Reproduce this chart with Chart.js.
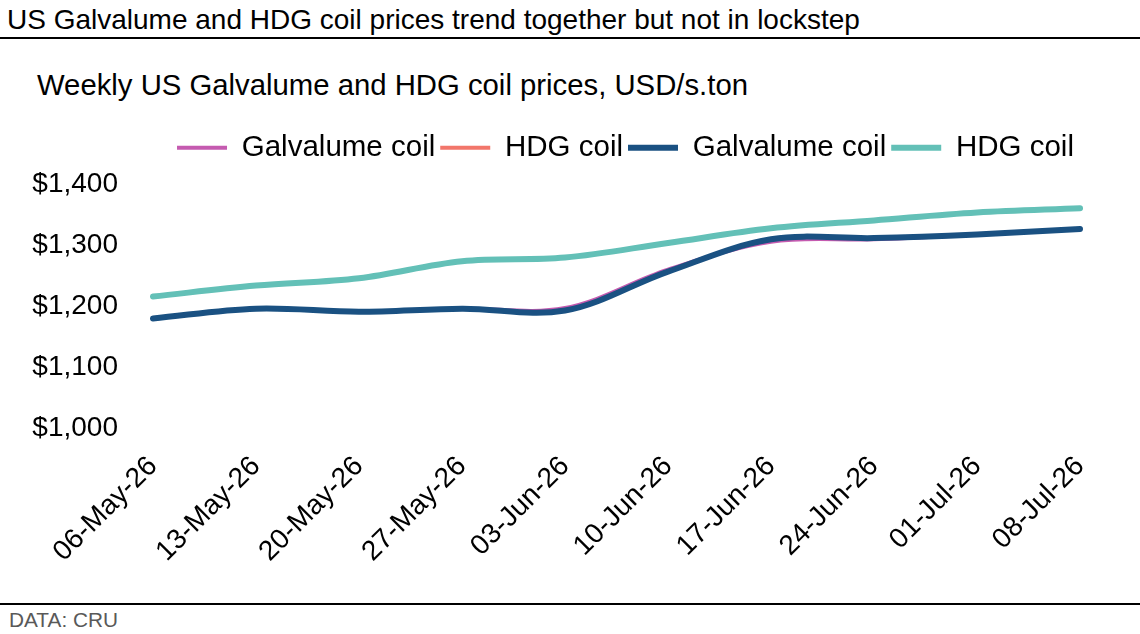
<!DOCTYPE html>
<html>
<head>
<meta charset="utf-8">
<script src="https://cdn.jsdelivr.net/npm/chart.js@4.4.1/dist/chart.umd.min.js"></script>
<style>
  body { margin: 0; background: #fff; font-family: "Liberation Sans", Arial, sans-serif; }
  #page { position: relative; width: 1140px; height: 634px; overflow: hidden; }
  .title { position: absolute; left: 7px; top: 4px; font-size: 28px; color: #000; white-space: nowrap; }
  .sub { position: absolute; left: 37px; top: 68px; font-size: 29.3px; color: #000; white-space: nowrap; }
  .rule { position: absolute; left: 0; width: 1140px; height: 2px; background: #000; }
  .foot { position: absolute; left: 9px; top: 608px; font-size: 20.8px; color: #595959; }
  #wrap { position: absolute; left: 0; top: 105px; width: 1140px; height: 495px; }
</style>
</head>
<body>
<div id="page">
  <div class="title">US Galvalume and HDG coil prices trend together but not in lockstep</div>
  <div class="rule" style="top:37px"></div>
  <div class="sub">Weekly US Galvalume and HDG coil prices, USD/s.ton</div>
  <div id="wrap"><canvas id="priceChart"></canvas></div>
  <div class="rule" style="top:603px"></div>
  <div class="foot">DATA: CRU</div>
</div>
<script>
const weeks = ['06-May-26', '13-May-26', '20-May-26', '27-May-26', '03-Jun-26',
               '10-Jun-26', '17-Jun-26', '24-Jun-26', '01-Jul-26', '08-Jul-26'];

// thin series (mostly hidden under the thick ones)
const galvalumeThin = [1180, 1196, 1191, 1196, 1197, 1260, 1306, 1310, 1318, 1327];
const hdgThin       = [1216, 1234, 1246, 1274, 1280, 1304, 1328, 1341, 1354, 1361];
// thick series
const galvalume     = [1180, 1196, 1191, 1196, 1193, 1257, 1310, 1312, 1318, 1327];
const hdg           = [1216, 1234, 1246, 1274, 1280, 1304, 1328, 1341, 1354, 1361];

const yTicks = [1000, 1100, 1200, 1300, 1400];

const FONT = 'Liberation Sans';

const line = (label, data, color, width, order) => ({
  label: label,
  data: data,
  borderColor: color,
  backgroundColor: color,
  borderWidth: width,
  borderCapStyle: 'round',
  borderJoinStyle: 'round',
  pointRadius: 0,
  tension: 0.35,
  fill: false,
  order: order
});

// extra space under the legend, and nudge it right a bit
const legendGap = {
  id: 'legendGap',
  beforeInit(chart) {
    const fit = chart.legend.fit;
    chart.legend.fit = function () {
      fit.bind(chart.legend)();
      this.height += 12;
    };
  },
  afterLayout(chart) {
    chart.legend.left += 9;
    chart.legend.right += 9;
  }
};

new Chart(document.getElementById('priceChart'), {
  type: 'line',
  data: {
    labels: weeks,
    datasets: [
      line('Galvalume coil', galvalumeThin, '#C55BB0', 4, 4),
      line('HDG coil', hdgThin, '#F2766B', 4, 3),
      line('Galvalume coil', galvalume, '#1A5182', 6, 2),
      line('HDG coil', hdg, '#63C0B7', 6, 1)
    ]
  },
  options: {
    responsive: true,
    maintainAspectRatio: false,
    animation: false,
    layout: { padding: { left: 32, right: 60, top: 23, bottom: 0 } },
    plugins: {
      tooltip: { enabled: false },
      legend: {
        position: 'top',
        fullSize: false,
        labels: {
          usePointStyle: true,
          pointStyle: 'line',
          pointStyleWidth: 50,
          boxHeight: 6,
          padding: 5,
          color: '#000',
          font: { family: FONT, size: 29.5 },
          sort: (a, b) => a.datasetIndex - b.datasetIndex
        }
      }
    },
    scales: {
      x: {
        grid: { display: false, drawTicks: false },
        border: { display: false },
        afterFit: (axis) => { axis.paddingLeft = 0; axis.paddingRight = 0; axis.height = 172; },
        ticks: {
          autoSkip: false,
          minRotation: 45,
          maxRotation: 45,
          padding: 22,
          color: '#000',
          font: { family: FONT, size: 28 }
        }
      },
      y: {
        min: 1000,
        max: 1400,
        grid: { display: false, drawTicks: false },
        border: { display: false },
        afterBuildTicks: (axis) => { axis.ticks = yTicks.map(v => ({ value: v })); },
        afterFit: (axis) => { axis.width = 121; },
        ticks: {
          padding: 35,
          color: '#000',
          font: { family: FONT, size: 28 },
          callback: (v) => '$' + v.toLocaleString('en-US')
        }
      }
    }
  },
  plugins: [legendGap]
});
</script>
</body>
</html>
